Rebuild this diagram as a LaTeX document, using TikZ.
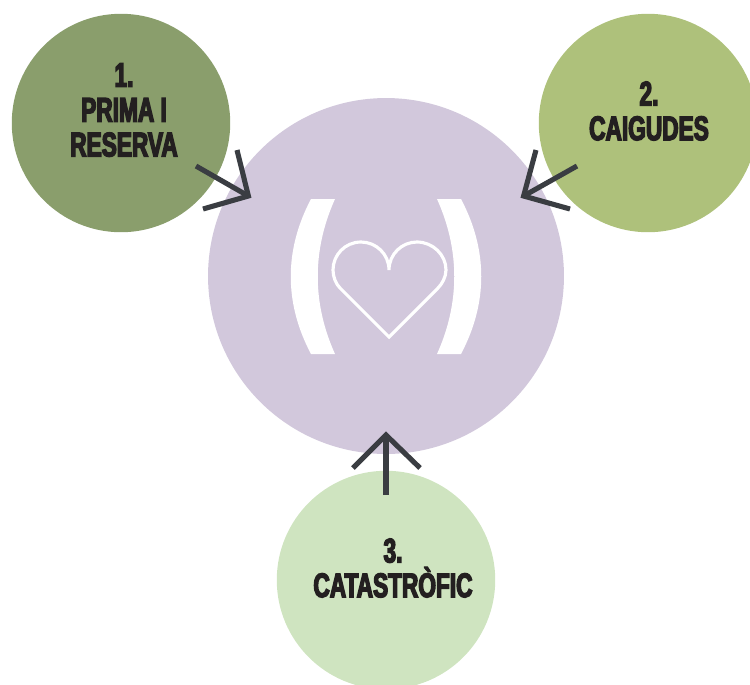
\documentclass[tikz,border=0pt]{standalone}
\usepackage{fontspec}
\newfontfamily\lblfont[FakeStretch=0.665,FakeBold=4,BoldFeatures={FakeStretch=0.665,FakeBold=4}]{Liberation Sans}
\definecolor{cOne}{HTML}{8A9E6C}
\definecolor{cTwo}{HTML}{AEC17B}
\definecolor{cThree}{HTML}{CFE4C0}
\definecolor{cHub}{HTML}{D2C8DC}
\definecolor{cArrow}{HTML}{3A3D42}
\definecolor{cText}{HTML}{231F20}
\tikzset{
  hub/.style={circle,fill=cHub,draw=none,inner sep=0pt,minimum size=7.12cm},
  petal/.style={circle,draw=none,inner sep=0pt,minimum size=4.37cm},
  lbl/.style={text=cText,align=center,inner sep=0pt,font=\lblfont\bfseries\fontsize{19.4}{19.8}\selectfont},
  conn/.style={draw=cArrow,line width=2.9pt,line join=miter,miter limit=10},
  paren/.style={fill=white,draw=none},
  heartline/.style={draw=white,line width=1.8pt,line join=miter}
}
\begin{document}
\begin{tikzpicture}[x=0.02cm,y=-0.02cm]
\clip (0,0) rectangle (750,684);
\node[hub] (hub) at (386,276) {};
\node[petal,fill=cOne] (one) at (121,123) {};
\node[petal,fill=cTwo] (two) at (648,123) {};
\node[petal,fill=cThree] (three) at (386,580) {};
\node[lbl] (t1) at (124,110) {1.\\PRIMA I\\RESERVA};
\node[lbl] (t2) at (649,111) {2.\\CAIGUDES};
\node[lbl] (t3) at (393,568) {3.\\CATASTRÒFIC};
\coordinate (a1s) at (196,166);
\coordinate (a1e) at (248.4,196);
\coordinate (a1l) at (237,150);
\coordinate (a1r) at (203,209);
\coordinate (a2s) at (577,166);
\coordinate (a2e) at (523.6,196);
\coordinate (a2l) at (536,150);
\coordinate (a2r) at (570,209);
\coordinate (a3s) at (386,495);
\coordinate (a3e) at (386,435);
\coordinate (a3l) at (353,468);
\coordinate (a3r) at (420,468);
\draw[conn] (a1s) -- (a1e);
\draw[conn] (a1l) -- (a1e) -- (a1r);
\draw[conn] (a2s) -- (a2e);
\draw[conn] (a2l) -- (a2e) -- (a2r);
\draw[conn] (a3s) -- (a3e);
\draw[conn] (a3l) -- (a3e) -- (a3r);
\path[paren] (311,199) -- (335,199) .. controls (312,250) and (312,303) .. (335,354) -- (311,354) .. controls (284,303) and (284,250) .. (311,199) -- cycle;
\path[paren] (461,199) -- (437,199) .. controls (460,250) and (460,303) .. (437,354) -- (461,354) .. controls (488,303) and (488,250) .. (461,199) -- cycle;
\draw[heartline] (389,270) .. controls (389,254) and (376,242) .. (361,242) .. controls (345,242) and (333,255) .. (333,270) .. controls (333,277) and (336,284) .. (340,288) -- (389,337) -- (438,288) .. controls (442,284) and (446,277) .. (446,270) .. controls (446,255) and (433,242) .. (417,242) .. controls (402,242) and (389,254) .. (389,270);
\end{tikzpicture}
\end{document}
